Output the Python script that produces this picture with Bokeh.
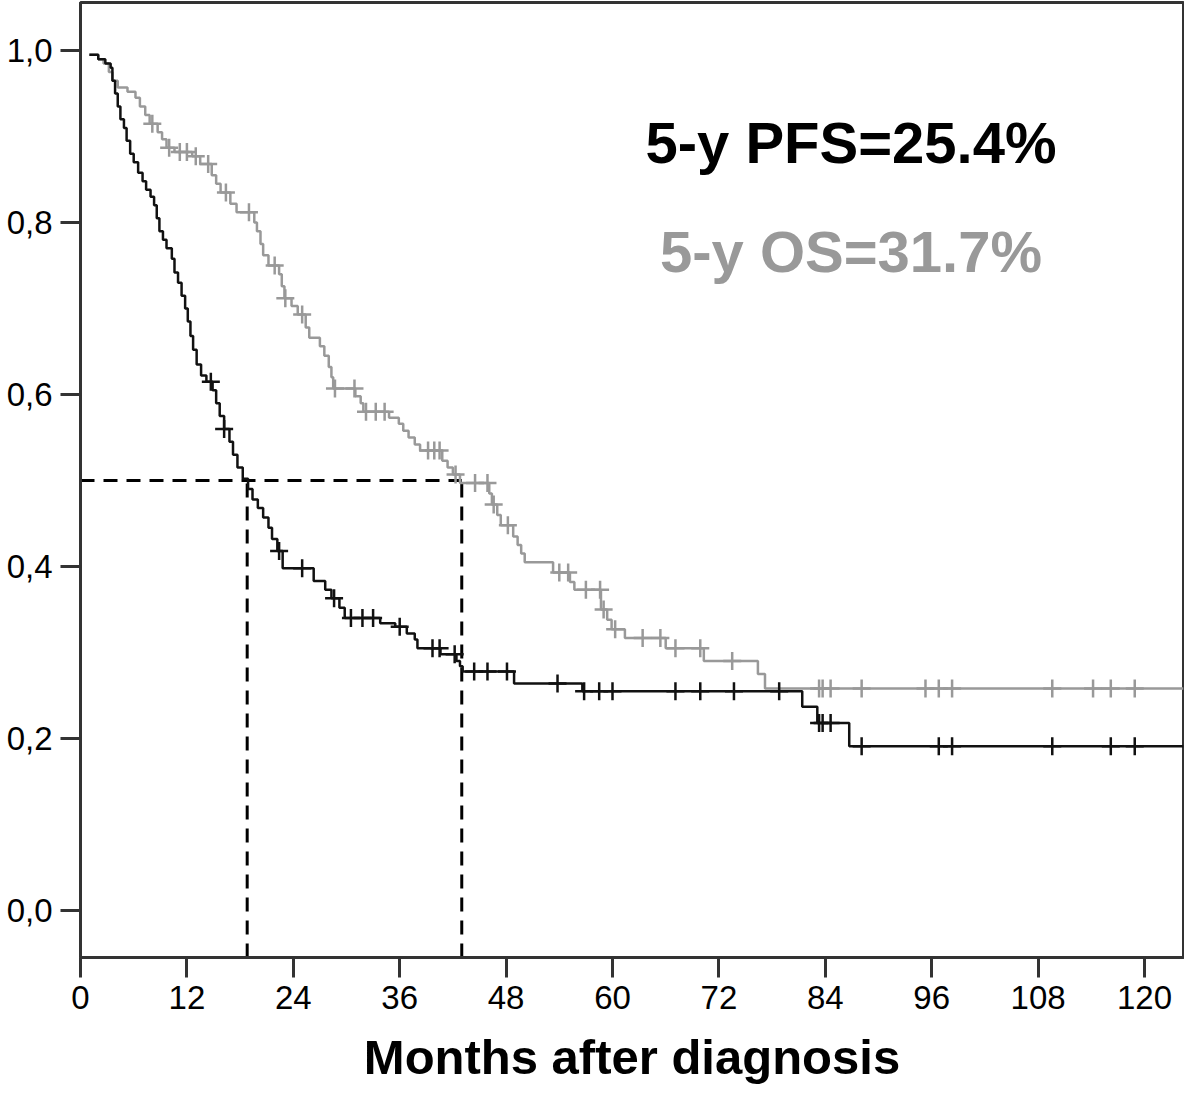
import numpy as np
from bokeh.plotting import figure
from bokeh.models import FixedTicker, Label, Range1d
from bokeh.embed import file_html
from bokeh.resources import INLINE

# ---- data ----
pfs_time = [1.0, 2.0, 2.8, 3.4, 3.6, 3.9, 4.2, 4.5, 4.9, 5.2, 5.6, 6.0, 6.5, 7.0, 7.4,
            7.9, 8.3, 8.6, 8.9, 9.3, 9.7, 10.3, 10.6, 11.0, 11.4, 11.8, 12.1, 12.4,
            12.7, 13.1, 13.6, 14.2, 14.9, 15.3, 15.7, 16.2, 16.8, 17.2, 17.7, 18.3,
            18.9, 19.4, 20.0, 20.6, 21.2, 21.6, 22.2, 22.8, 26.3, 27.6, 28.3, 29.2,
            29.8, 33.8, 35.5, 36.8, 37.7, 38.0, 40.6, 42.4, 42.8, 43.1, 48.9, 56.6,
            81.4, 83.1, 86.7]
pfs_surv = [0.995, 0.99, 0.985, 0.98, 0.965, 0.95, 0.935, 0.92, 0.91, 0.895, 0.88, 0.87,
            0.858, 0.848, 0.838, 0.83, 0.82, 0.805, 0.79, 0.78, 0.77, 0.758, 0.742, 0.73,
            0.715, 0.70, 0.685, 0.668, 0.652, 0.635, 0.622, 0.615, 0.605, 0.59, 0.575,
            0.56, 0.545, 0.53, 0.515, 0.502, 0.49, 0.478, 0.468, 0.457, 0.445, 0.432,
            0.418, 0.398, 0.383, 0.373, 0.363, 0.352, 0.34, 0.334, 0.33, 0.322, 0.315,
            0.305, 0.298, 0.29, 0.284, 0.278, 0.264, 0.255, 0.237, 0.218, 0.191]
pfs_censor = [14.7, 16.2, 22.4, 25.0, 28.6, 30.5, 31.8, 33.0, 36.0, 39.7, 40.5, 42.2,
              44.4, 45.9, 48.1, 53.8, 56.8, 58.5, 60.0, 67.1, 69.9, 73.7, 78.8, 83.3,
              83.7, 84.6, 88.1, 96.8, 98.3, 109.6, 116.2, 118.9]

os_time = [1.0, 2.0, 2.6, 3.2, 3.6, 4.2, 5.3, 6.2, 6.7, 7.3, 7.8, 8.7, 9.2, 9.7, 10.6,
           12.6, 13.5, 14.8, 15.3, 15.8, 16.9, 17.6, 19.6, 19.9, 20.3, 20.6, 21.2, 22.4,
           22.7, 23.0, 23.8, 24.5, 25.4, 25.8, 27.0, 27.5, 28.0, 28.3, 28.5, 31.0, 31.6,
           31.9, 34.8, 35.9, 36.4, 37.0, 37.7, 38.3, 40.8, 41.4, 42.0, 42.8, 46.1, 46.4,
           47.0, 47.4, 48.8, 49.3, 49.7, 50.1, 53.3, 55.2, 55.7, 58.7, 59.4, 59.9, 61.4,
           66.0, 70.3, 76.4, 77.2]
os_surv = [0.995, 0.99, 0.985, 0.975, 0.965, 0.957, 0.952, 0.945, 0.935, 0.925, 0.915,
           0.905, 0.897, 0.887, 0.882, 0.877, 0.868, 0.855, 0.845, 0.835, 0.822, 0.812,
           0.80, 0.79, 0.775, 0.762, 0.75, 0.74, 0.726, 0.712, 0.703, 0.693, 0.678,
           0.666, 0.656, 0.645, 0.632, 0.62, 0.607, 0.598, 0.59, 0.58, 0.573, 0.566,
           0.558, 0.55, 0.542, 0.535, 0.523, 0.515, 0.507, 0.497, 0.485, 0.472, 0.46,
           0.448, 0.435, 0.425, 0.415, 0.405, 0.393, 0.382, 0.373, 0.35, 0.338, 0.327,
           0.317, 0.305, 0.29, 0.275, 0.258]
os_censor = [8.1, 10.0, 11.2, 12.0, 13.0, 14.4, 16.4, 19.0, 21.9, 23.1, 25.0, 28.7, 30.9,
             32.2, 33.3, 34.3, 39.2, 39.9, 40.5, 42.3, 44.5, 45.9, 46.6, 48.2, 54.0, 55.0,
             57.0, 58.6, 59.0, 60.3, 63.4, 65.4, 67.1, 69.9, 73.5, 83.3, 83.7, 84.6, 88.1,
             95.3, 96.8, 98.3, 109.6, 114.2, 116.2, 118.9]

x_ticks = [0, 12, 24, 36, 48, 60, 72, 84, 96, 108, 120]
y_ticks = [0.0, 0.2, 0.4, 0.6, 0.8, 1.0]
y_tick_labels = ["0,0", "0,2", "0,4", "0,6", "0,8", "1,0"]
median_level = 0.5
median_pfs = 18.8
median_os = 43.0
pfs_text = "5-y PFS=25.4%"
os_text = "5-y OS=31.7%"
x_title = "Months after diagnosis"

X_END = 124.4
Y_START, Y_END = -0.0547, 1.0559


def step_value(times, survs, t):
    idx = np.searchsorted(np.asarray(times), np.asarray(t), side="right") - 1
    return np.asarray(survs)[idx]


p = figure(width=1184, height=1086, output_backend="svg", toolbar_location=None,
           x_range=Range1d(0, X_END), y_range=Range1d(Y_START, Y_END),
           min_border_left=80, min_border_right=1, min_border_top=2, min_border_bottom=129)
p.grid.visible = False
p.outline_line_color = "#333333"
p.outline_line_width = 3
p.background_fill_color = "white"
p.border_fill_color = "white"

# median dashed guides
p.segment(x0=[0], y0=[median_level], x1=[median_os], y1=[median_level],
          line_color="black", line_width=3, line_dash="14 9")
p.segment(x0=[median_pfs, median_os], y0=[Y_START, Y_START],
          x1=[median_pfs, median_os], y1=[median_level, median_level],
          line_color="black", line_width=3, line_dash="14 9")

# OS curve (gray)
p.step(x=os_time + [X_END], y=os_surv + [os_surv[-1]], mode="after",
       line_color="#999999", line_width=2.5)
p.scatter(x=os_censor, y=step_value(os_time, os_surv, os_censor), marker="cross",
          size=18, line_color="#999999", line_width=2.5)

# PFS curve (black)
p.step(x=pfs_time + [X_END], y=pfs_surv + [pfs_surv[-1]], mode="after",
       line_color="#111111", line_width=2.5)
p.scatter(x=pfs_censor, y=step_value(pfs_time, pfs_surv, pfs_censor), marker="cross",
          size=18, line_color="#111111", line_width=2.5)

# annotations
p.add_layout(Label(x=86.9, y=0.893, text=pfs_text, text_align="center",
                   text_baseline="middle", text_font="Liberation Sans",
                   text_font_style="bold", text_font_size="58px", text_color="black"))
p.add_layout(Label(x=86.9, y=0.766, text=os_text, text_align="center",
                   text_baseline="middle", text_font="Liberation Sans",
                   text_font_style="bold", text_font_size="58px", text_color="#999999"))

# axes
for ax in (p.xaxis[0], p.yaxis[0]):
    ax.axis_line_width = 3
    ax.axis_line_color = "#333333"
    ax.major_tick_line_width = 3
    ax.major_tick_line_color = "#333333"
    ax.major_tick_out = 20
    ax.major_tick_in = 0
    ax.minor_tick_line_color = None
    ax.major_label_text_font = "Liberation Sans"
    ax.major_label_text_font_size = "33px"
    ax.major_label_text_color = "black"
    ax.major_label_standoff = 8

p.xaxis.ticker = FixedTicker(ticks=x_ticks)
p.yaxis.ticker = FixedTicker(ticks=y_ticks)
p.yaxis.major_label_overrides = {t: l for t, l in zip(y_ticks, y_tick_labels)}
p.xaxis.axis_label = x_title
p.xaxis.axis_label_text_font = "Liberation Sans"
p.xaxis.axis_label_text_font_style = "bold"
p.xaxis.axis_label_text_font_size = "49px"
p.xaxis.axis_label_text_color = "black"
p.xaxis.axis_label_standoff = 18

open("out.html", "w").write(file_html(p, INLINE))
